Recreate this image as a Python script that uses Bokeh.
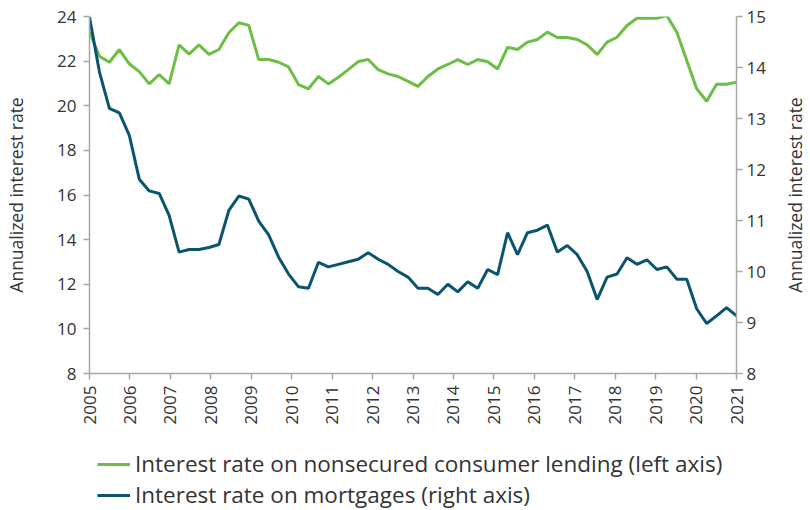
import numpy as np
from bokeh.plotting import figure
from bokeh.layouts import column, row
from bokeh.models import LinearAxis, Range1d, Legend, LegendItem, FixedTicker
from bokeh.embed import file_html
from bokeh.resources import INLINE

# ---- data (quarterly observations, 2005 -> 2021) ----
year_ticks = list(range(2005, 2022))
left_ticks = list(range(8, 25, 2))
right_ticks = list(range(8, 16))

consumer_rate = [
    23.30, 22.22, 21.95, 22.52, 21.88, 21.53, 20.98, 21.40, 20.98, 22.73,
    22.31, 22.73, 22.30, 22.52, 23.27, 23.72, 23.60, 22.07, 22.07, 21.95,
    21.74, 20.95, 20.76, 21.31, 20.98, 21.28, 21.62, 21.98, 22.07, 21.62,
    21.43, 21.31, 21.09, 20.87, 21.31, 21.65, 21.85, 22.07, 21.85, 22.07,
    21.97, 21.65, 22.62, 22.52, 22.85, 22.97, 23.30, 23.06, 23.06, 22.97,
    22.73, 22.30, 22.85, 23.07, 23.60, 23.92, 23.92, 23.92, 24.04, 23.30,
    22.03, 20.76, 20.20, 20.96, 20.96, 21.05,
]
mortgage_rate = [
    14.99, 13.91, 13.20, 13.11, 12.67, 11.81, 11.58, 11.53, 11.10, 10.38,
    10.43, 10.43, 10.47, 10.53, 11.20, 11.48, 11.42, 10.99, 10.72, 10.28,
    9.95, 9.70, 9.67, 10.18, 10.09, 10.14, 10.19, 10.24, 10.37, 10.24,
    10.14, 10.00, 9.89, 9.67, 9.67, 9.55, 9.75, 9.60, 9.80, 9.67,
    10.04, 9.94, 10.76, 10.33, 10.76, 10.81, 10.91, 10.38, 10.51, 10.33,
    10.00, 9.45, 9.89, 9.95, 10.27, 10.14, 10.23, 10.04, 10.09, 9.85,
    9.85, 9.27, 8.98, 9.13, 9.29, 9.13,
]
labels = [
    "Interest rate on nonsecured consumer lending (left axis)",
    "Interest rate on mortgages (right axis)",
]
axis_title = "Annualized interest rate"

t = np.linspace(year_ticks[0], year_ticks[-1], len(consumer_rate))

GREEN = "#6DBE46"
BLUE = "#0B5470"
AXIS = "#A6A6A6"
TEXT = "#333333"
FONT = "Open Sans"
TOTAL_W = 808
MAIN_W = 772
MAIN_H = 432
LEG_H = 78

p = figure(width=MAIN_W, height=MAIN_H, output_backend="svg",
           toolbar_location=None,
           x_range=Range1d(2005, 2021), y_range=Range1d(8, 24),
           min_border_left=89, min_border_right=36, min_border_top=16,
           min_border_bottom=59)
p.extra_y_ranges = {"right": Range1d(8, 15)}
p.outline_line_color = None
p.grid.grid_line_color = None

r1 = p.line(t, consumer_rate, line_color=GREEN, line_width=3)
r2 = p.line(t, mortgage_rate, line_color=BLUE, line_width=3, y_range_name="right")

ry = LinearAxis(y_range_name="right")
p.add_layout(ry, "right")

for ax in [p.yaxis[0], ry, p.xaxis[0]]:
    ax.axis_line_color = AXIS
    ax.axis_line_width = 1.5
    ax.major_tick_line_color = AXIS
    ax.major_tick_line_width = 1.5
    ax.major_tick_out = 6
    ax.major_tick_in = 0
    ax.minor_tick_line_color = None
    ax.major_label_text_font = FONT
    ax.major_label_text_font_size = "17px"
    ax.major_label_text_color = TEXT
    ax.axis_label_text_font = FONT
    ax.axis_label_text_font_size = "17.5px"
    ax.axis_label_text_font_style = "normal"
    ax.axis_label_text_color = TEXT

p.yaxis[0].ticker = FixedTicker(ticks=left_ticks)
ry.ticker = FixedTicker(ticks=right_ticks)
p.xaxis[0].ticker = FixedTicker(ticks=year_ticks)
p.xaxis[0].major_label_orientation = np.pi / 2

p.yaxis[0].axis_label = axis_title
p.yaxis[0].major_label_standoff = 7
ry.major_label_standoff = 4
p.yaxis[0].axis_label_standoff = 26
p.xaxis[0].major_label_standoff = 6

# right-hand axis title (reads bottom-to-top like the left one)
TW = TOTAL_W - MAIN_W
tf = figure(width=TW, height=MAIN_H, output_backend="svg",
            toolbar_location=None, x_axis_type=None,
            x_range=Range1d(0, 1), y_range=Range1d(8, 15),
            min_border_left=TW - 2, min_border_right=0,
            min_border_top=16, min_border_bottom=59)
tf.outline_line_color = None
tf.grid.grid_line_color = None
ta = tf.yaxis[0]
ta.ticker = FixedTicker(ticks=[])
ta.axis_line_color = None
ta.major_tick_line_color = None
ta.minor_tick_line_color = None
ta.axis_label = axis_title
ta.axis_label_standoff = 0
ta.axis_label_text_font = FONT
ta.axis_label_text_font_size = "17.5px"
ta.axis_label_text_font_style = "normal"
ta.axis_label_text_color = TEXT

# legend strip under the chart
lg = figure(width=TOTAL_W, height=LEG_H, output_backend="svg", toolbar_location=None,
            x_range=Range1d(3000, 3001), y_range=Range1d(0, 1),
            x_axis_type=None, y_axis_type=None,
            min_border_left=89, min_border_right=TOTAL_W - 736,
            min_border_top=0, min_border_bottom=0)
lg.outline_line_color = None
lg.grid.grid_line_color = None
k1 = lg.line(t, consumer_rate, line_color=GREEN, line_width=3)
k2 = lg.line(t, mortgage_rate, line_color=BLUE, line_width=3)
legend = Legend(items=[LegendItem(label=labels[0], renderers=[k1]),
                       LegendItem(label=labels[1], renderers=[k2])],
                location=(8, 0), orientation="vertical",
                label_text_font=FONT, label_text_font_size="22.5px",
                label_text_color=TEXT, glyph_width=33, glyph_height=16,
                label_standoff=5, label_height=16, spacing=-8, padding=0,
                margin=0, border_line_color=None, background_fill_alpha=0)
lg.add_layout(legend, "center")

layout = column(row(p, tf, spacing=0), lg, spacing=0)
html = file_html(layout, INLINE)
open("out.html", "w").write(html)
